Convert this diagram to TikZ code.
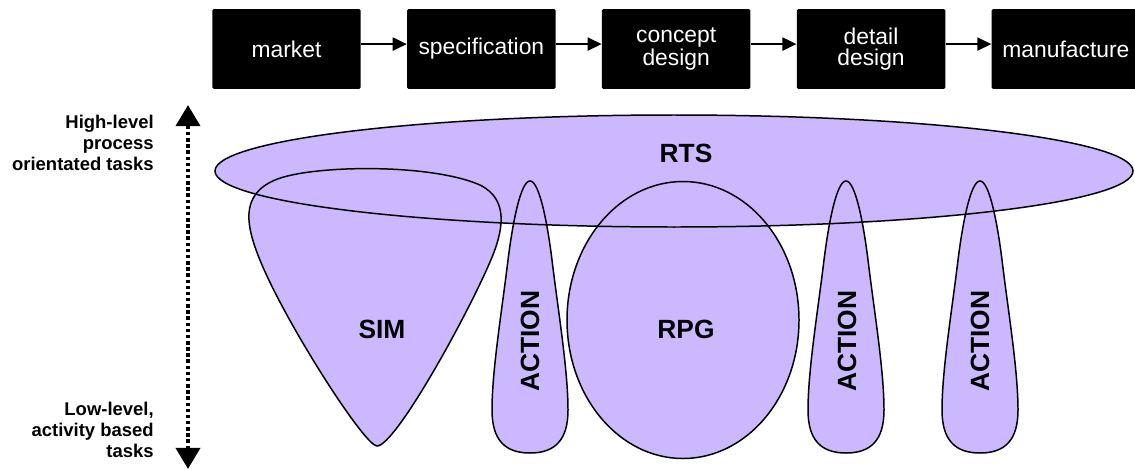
\documentclass[tikz,border=0pt]{standalone}
\usepackage{fontspec}
\setmainfont{Liberation Sans}
\usetikzlibrary{arrows.meta,positioning}
\definecolor{lavender}{RGB}{203,184,255}

\tikzset{
  stage/.style={fill=black, text=white, minimum width=84.5pt, minimum height=45.4pt, inner sep=2pt, align=center, rounded corners=0.8pt, font=\fontsize{13}{12}\selectfont},
  flow/.style={line width=1pt, -{Triangle[length=8pt,width=7.5pt]}},
  levels/.style={line width=2.6pt, dash pattern=on 2pt off 1.5pt, {Triangle[length=12pt,width=13.5pt]}-{Triangle[length=12pt,width=13.5pt]}},
  side/.style={font=\fontsize{10.5}{11.9}\selectfont\bfseries, align=right, anchor=east, inner sep=0pt},
  genre/.style={font=\fontsize{15}{15}\selectfont\bfseries, inner sep=1pt},
  blobfill/.style={fill=lavender},
  blobline/.style={draw=black, line width=0.85pt}
}

\begin{document}
\begin{tikzpicture}[x=0.02cm, y=-0.02cm]
    \useasboundingbox (0,0) rectangle (1135,470);

    % Design process
    \node[stage] (market) at (286.5,49) {market};
    \node[stage, right=26pt of market] (spec) {specification};
    \node[stage, right=26pt of spec] (concept) {concept\\design};
    \node[stage, right=26pt of concept] (detail) {detail\\design};
    \node[stage, right=26pt of detail] (manuf) {manufacture};

    \draw[flow] ([yshift=2.8pt]market.east) -- ([yshift=2.8pt]spec.west);
    \draw[flow] ([yshift=2.8pt]spec.east) -- ([yshift=2.8pt]concept.west);
    \draw[flow] ([yshift=2.8pt]concept.east) -- ([yshift=2.8pt]detail.west);
    \draw[flow] ([yshift=2.8pt]detail.east) -- ([yshift=2.8pt]manuf.west);

    % Task level axis
    \coordinate (top) at (188,105);
    \coordinate (bottom) at (188,469);
    \draw[levels] (bottom) -- (top);
    \node[side] (high) at (154,143) {High-level\\process\\orientated tasks};
    \node[side] (low) at (154,430) {Low-level,\\activity based\\tasks};

    % Game genres (fills first, outlines on top)
    \foreach \pass in {blobfill,blobline} {
        \path[\pass] (674,171) ellipse [x radius=459, y radius=56];
        \path[\pass] (377,446) .. controls (365,446) and (290,330) .. (262,265)
            .. controls (245,225) and (240,195) .. (275,180)
            .. controls (310,165) and (430,163) .. (480,185)
            .. controls (510,200) and (503,232) .. (490,262)
            .. controls (465,320) and (395,446) .. (377,446) -- cycle;
        \path[\pass] (683,320) ellipse [x radius=116, y radius=138.5];
        \foreach \cx in {530,846,980}
            \path[\pass] (\cx,181) .. controls (\cx+9,181) and (\cx+17,220) .. (\cx+22,260)
                .. controls (\cx+28,310) and (\cx+38,370) .. (\cx+38,410)
                .. controls (\cx+38,440) and (\cx+25,453) .. (\cx,453)
                .. controls (\cx-25,453) and (\cx-38,440) .. (\cx-38,410)
                .. controls (\cx-38,370) and (\cx-28,310) .. (\cx-22,260)
                .. controls (\cx-17,220) and (\cx-9,181) .. (\cx,181) -- cycle;
    }

    % Genre labels
    \node[genre] (rts) at (686,153) {RTS};
    \node[genre] (sim) at (382,329) {SIM};
    \node[genre] (rpg) at (686,329) {RPG};
    \node[genre, rotate=90] (act1) at (530,341) {ACTION};
    \node[genre, rotate=90] (act2) at (847,341) {ACTION};
    \node[genre, rotate=90] (act3) at (980,341) {ACTION};
\end{tikzpicture}
\end{document}
